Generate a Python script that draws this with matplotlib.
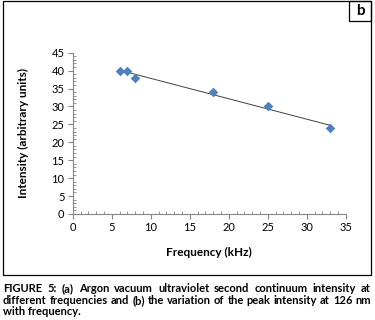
import numpy as np
import matplotlib
matplotlib.use('Agg')
import matplotlib.pyplot as plt
from matplotlib.patches import Rectangle
from matplotlib.ticker import MultipleLocator

plt.rcParams['font.family'] = ['Lato', 'DejaVu Sans']

freq = [6, 7, 8, 18, 25, 33]
intensity = [40, 40, 38, 34, 30, 24]
caption = [
    "FIGURE 5: (a) Argon vacuum ultraviolet second continuum intensity at",
    "different frequencies and (b) the variation of the peak intensity at 126 nm",
    "with frequency.",
]

W, H = 375, 320
fig = plt.figure(figsize=(W / 100, H / 100), dpi=100)

# outer frame and "b" label box
fig.add_artist(Rectangle((3 / W, 1 - 275 / H), 368 / W, 274 / H, transform=fig.transFigure,
                         fill=False, ec='black', lw=0.9))
fig.add_artist(Rectangle((349 / W, 1 - 21 / H), 22 / W, 20 / H, transform=fig.transFigure,
                         fill=False, ec='black', lw=0.9))
fig.text(360 / W, 1 - 11 / H, 'b', ha='center', va='center', fontsize=11, fontweight='bold')

ax = fig.add_axes([72.7 / W, 1 - 214 / H, (345.7 - 72.7) / W, (214 - 52.7) / H])
ax.scatter(freq, intensity, marker='D', s=24, color='#4F81BD', zorder=3, linewidths=0)
k, b = np.polyfit(freq, intensity, 1)
xs = np.array([min(freq), max(freq)])
ax.plot(xs, k * xs + b, color='#404040', lw=0.7, zorder=2)

ax.set_xlim(0, 35)
ax.set_ylim(0, 45)
ax.xaxis.set_major_locator(MultipleLocator(5))
ax.xaxis.set_minor_locator(MultipleLocator(1))
ax.yaxis.set_major_locator(MultipleLocator(5))
ax.yaxis.set_minor_locator(MultipleLocator(1))
for s in ['top', 'right']:
    ax.spines[s].set_visible(False)
for s in ['left', 'bottom']:
    ax.spines[s].set_color('#868686')
    ax.spines[s].set_linewidth(0.8)
ax.tick_params(which='major', direction='out', length=3.5, color='#868686', width=0.8,
               labelsize=8, pad=2.5)
ax.tick_params(which='minor', direction='in', length=2.5, color='#868686', width=0.6)
ax.set_xlabel('Frequency (kHz)', fontsize=8.5, fontweight='bold', labelpad=10)
ax.set_ylabel('Intensity (arbitrary units)', fontsize=8.5, fontweight='bold', labelpad=16)

# justified caption
fig.canvas.draw()
renderer = fig.canvas.get_renderer()
x0, x1 = 3 / W, 371 / W
ys = [1 - 292 / H, 1 - 304 / H, 1 - 315 / H]
fs = 8
for i, line in enumerate(caption):
    words = line.split(' ')
    if i == len(caption) - 1:
        fig.text(x0, ys[i], line, fontsize=fs, fontweight='bold', va='baseline')
        continue
    arts = [fig.text(0, ys[i], w, fontsize=fs, fontweight='bold', va='baseline') for w in words]
    widths = [a.get_window_extent(renderer).width / W for a in arts]
    gap = (x1 - x0 - sum(widths)) / (len(words) - 1)
    x = x0
    for a, w in zip(arts, widths):
        a.set_x(x)
        x += w + gap

fig.savefig('out.png', dpi=100)
